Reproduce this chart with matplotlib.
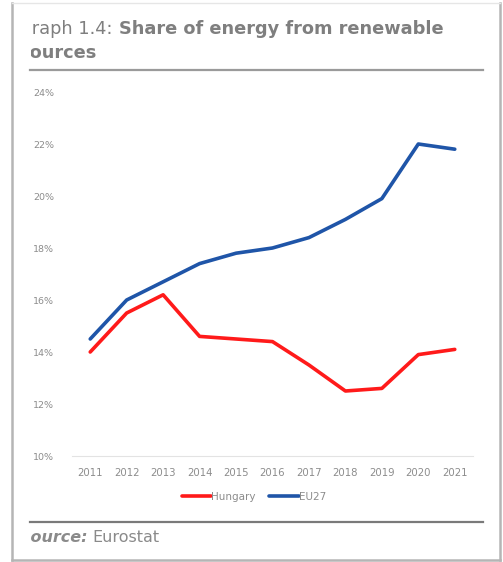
import matplotlib
matplotlib.use("Agg")
import matplotlib.pyplot as plt
from matplotlib.lines import Line2D
from matplotlib.transforms import Bbox

years = [2011, 2012, 2013, 2014, 2015, 2016, 2017, 2018, 2019, 2020, 2021]
hungary = [14.0, 15.5, 16.2, 14.6, 14.5, 14.4, 13.5, 12.5, 12.6, 13.9, 14.1]
eu27 = [14.5, 16.0, 16.7, 17.4, 17.8, 18.0, 18.4, 19.1, 19.9, 22.0, 21.8]
yticks = [10, 12, 14, 16, 18, 20, 22, 24]

W, H = 503, 562
fig = plt.figure(figsize=(W / 100, H / 100), dpi=100)
fig.patch.set_facecolor("white")

def fx(px):
    return px / W

def fy(py):
    return 1 - py / H

# frame (screenshot border)
frame_col = "#b5b5b5"
fig.add_artist(Line2D([fx(12), fx(12)], [fy(3), fy(560)], color=frame_col, lw=1.8))
fig.add_artist(Line2D([fx(12), fx(500)], [fy(560), fy(560)], color=frame_col, lw=1.8))
fig.add_artist(Line2D([fx(500), fx(500)], [fy(3), fy(560)], color=frame_col, lw=1.8))
fig.add_artist(Line2D([fx(12), fx(500)], [fy(3), fy(3)], color="#e6e6e6", lw=1.0))

# rules
fig.add_artist(Line2D([fx(30), fx(483)], [fy(70), fy(70)], color="#9a9a9a", lw=1.6))
fig.add_artist(Line2D([fx(30), fx(483)], [fy(522), fy(522)], color="#7a7a7a", lw=1.6))

clip = Bbox.from_extents(31, 0, 495, H)
title_col = "#7f7f7f"
tfs = 12.8
t1 = fig.text(fx(18.5), fy(29), "Graph 1.4: ", fontsize=tfs, color=title_col,
              va="center", ha="left")
t1.set_clip_on(True); t1.set_clip_box(clip)
fig.canvas.draw()
bb = t1.get_window_extent()
fig.text(bb.x1 / W, fy(29), "Share of energy from renewable", fontsize=tfs,
         color=title_col, fontweight="bold", va="center", ha="left")
t2 = fig.text(fx(19.5), fy(53), "sources", fontsize=tfs, color=title_col,
              fontweight="bold", va="center", ha="left")
t2.set_clip_on(True); t2.set_clip_box(clip)

sfs = 11.5
t3 = fig.text(fx(20), fy(537), "Source:", fontsize=sfs, color="#8a8a8a",
              fontweight="bold", fontstyle="italic", va="center", ha="left")
t3.set_clip_on(True); t3.set_clip_box(clip)
fig.canvas.draw()
bb3 = t3.get_window_extent()
fig.text(bb3.x1 / W + 0.008, fy(537), "Eurostat", fontsize=sfs, color="#8a8a8a",
         va="center", ha="left")

# axes
ax = fig.add_axes([fx(72), fy(456), fx(473) - fx(72), fy(92) - fy(456)])
ax.plot(years, hungary, color="#ff1a1a", lw=2.6, label="Hungary", solid_capstyle="round")
ax.plot(years, eu27, color="#1f55a8", lw=2.6, label="EU27", solid_capstyle="round")
ax.set_xlim(2010.5, 2021.5)
ax.set_ylim(10, 24)
ax.set_yticks(yticks)
ax.set_yticklabels([f"{v}%" for v in yticks])
ax.set_xticks(years)
ax.set_xticklabels([str(y) for y in years])
for s in ["top", "right", "left"]:
    ax.spines[s].set_visible(False)
ax.spines["bottom"].set_color("#e3e3e3")
ax.spines["bottom"].set_linewidth(0.8)
ax.tick_params(axis="y", length=0, labelsize=6.8, labelcolor="#8c8c8c", pad=13)
ax.tick_params(axis="x", length=0, labelsize=7.3, labelcolor="#8c8c8c", pad=9)

leg = fig.legend(loc="center", bbox_to_anchor=(fx(254), fy(497)), ncol=2, frameon=False,
                 fontsize=7.5, labelcolor="#8c8c8c", handlelength=2.8, handletextpad=0.0,
                 columnspacing=1.3)

fig.savefig("out.png", dpi=100, facecolor="white")
